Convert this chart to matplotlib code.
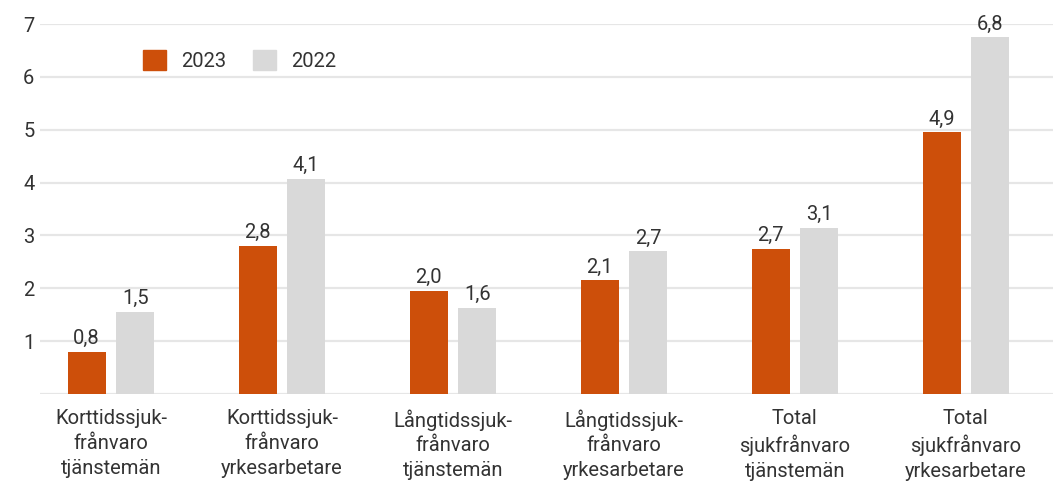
import matplotlib
matplotlib.use("Agg")
import matplotlib.pyplot as plt
from matplotlib.patches import Rectangle
import numpy as np

plt.rcParams['font.family'] = ['Roboto', 'DejaVu Sans']

categories = [
    "Korttidssjuk-\nfrånvaro\ntjänstemän",
    "Korttidssjuk-\nfrånvaro\nyrkesarbetare",
    "Långtidssjuk-\nfrånvaro\ntjänstemän",
    "Långtidssjuk-\nfrånvaro\nyrkesarbetare",
    "Total\nsjukfrånvaro\ntjänstemän",
    "Total\nsjukfrånvaro\nyrkesarbetare",
]
values_2023 = [0.8, 2.8, 1.95, 2.15, 2.75, 4.95]
values_2022 = [1.55, 4.07, 1.63, 2.7, 3.15, 6.75]
labels_2023 = ["0,8", "2,8", "2,0", "2,1", "2,7", "4,9"]
labels_2022 = ["1,5", "4,1", "1,6", "2,7", "3,1", "6,8"]
yticks = [1, 2, 3, 4, 5, 6, 7]

c23 = "#cd4f0a"
c22 = "#d9d9d9"
txt = "#333333"
fs = 14.5

fig = plt.figure(figsize=(10.58, 4.86), dpi=100)
ax = fig.add_axes([40/1058, 92/486, (1053-40)/1058, (394-24)/486])

x = np.arange(len(categories))
w = 0.222
off = 0.142
ax.bar(x - off, values_2023, w, color=c23, zorder=3)
ax.bar(x + off, values_2022, w, color=c22, zorder=3)

for xi, v, l in zip(x, values_2023, labels_2023):
    ax.text(xi - off, v + 0.07, l, ha='center', va='bottom', fontsize=fs, color=txt, clip_on=False)
for xi, v, l in zip(x, values_2022, labels_2022):
    ax.text(xi + off, v + 0.07, l, ha='center', va='bottom', fontsize=fs, color=txt, clip_on=False)

ax.set_xlim(-0.415, 5.51)
ax.set_ylim(0, 7)
ax.set_yticks(yticks)
ax.set_yticklabels([str(t) for t in yticks], fontsize=fs, color=txt)
ax.yaxis.grid(True, color="#e6e6e6", linewidth=1.6, zorder=0)
ax.axhline(0, color="#e6e6e6", linewidth=1.6, zorder=0)
ax.tick_params(axis='y', length=0, pad=4)
ax.set_xticks(x)
ax.set_xticklabels(categories, fontsize=fs, color=txt, linespacing=1.38)
ax.tick_params(axis='x', length=0, pad=11)
for s in ax.spines.values():
    s.set_visible(False)

# legend
handles = [Rectangle((0, 0), 1, 1, color=c23), Rectangle((0, 0), 1, 1, color=c22)]
leg = ax.legend(handles, ["2023", "2022"], loc='upper left', bbox_to_anchor=(85/1013, 0.978),
                ncol=2, frameon=False, fontsize=fs, handlelength=1.15, handleheight=1.15,
                columnspacing=1.3, handletextpad=0.75, labelcolor=txt)

fig.savefig("out.png", dpi=100)
